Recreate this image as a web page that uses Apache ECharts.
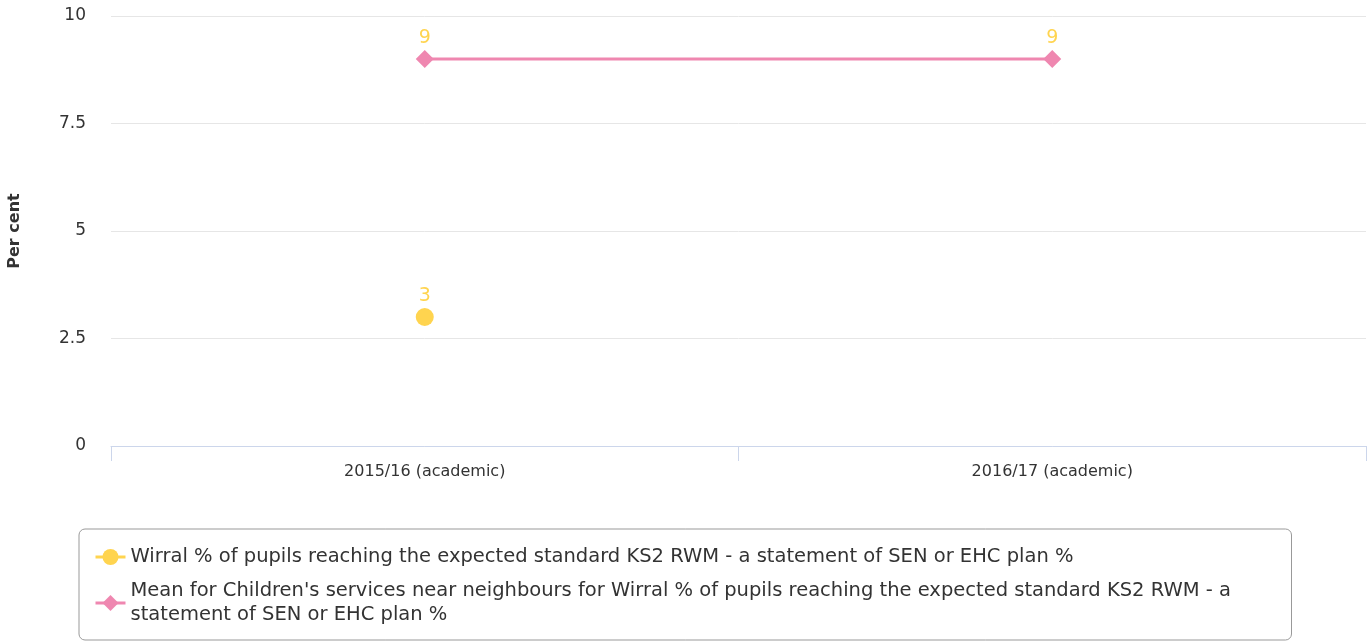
<!DOCTYPE html>
<html>
<head>
<meta charset="utf-8">
<script src="https://cdn.jsdelivr.net/npm/echarts@6/dist/echarts.min.js"></script>
<style>
  html, body { margin: 0; padding: 0; background: #fff; }
  #chart { width: 1372px; height: 641px; }
</style>
</head>
<body>
<div id="chart"></div>
<script>
var categories = ['2015/16 (academic)', '2016/17 (academic)'];
var wirralName = 'Wirral % of pupils reaching the expected standard KS2 RWM - a statement of SEN or EHC plan %';
var meanName = "Mean for Children's services near neighbours for Wirral % of pupils reaching the expected standard KS2 RWM - a statement of SEN or EHC plan %";
var wirralValues = [3, null];
var meanValues = [9, 9];
var yTicks = [0, 2.5, 5, 7.5, 10];

var fontFamily = 'DejaVu Sans';
var labelStyle = {
    show: true,
    position: 'top',
    distance: 2,
    color: '#ffd44f',
    fontSize: 19,
    fontFamily: fontFamily
};

var chart = echarts.init(document.getElementById('chart'));
var option = {
    animation: false,
    textStyle: { fontFamily: fontFamily },
    grid: {
        left: 111,
        right: 6,
        top: 16,
        bottom: 195,
        containLabel: false,
        outerBoundsMode: 'none'
    },
    xAxis: {
        type: 'category',
        data: categories,
        boundaryGap: true,
        axisLine: { lineStyle: { color: '#ccd6eb' } },
        axisTick: { show: true, length: 15, lineStyle: { color: '#ccd6eb' } },
        axisLabel: { color: '#333', fontSize: 16, margin: 18, fontFamily: fontFamily }
    },
    yAxis: {
        type: 'value',
        min: yTicks[0],
        max: yTicks[yTicks.length - 1],
        interval: 2.5,
        name: 'Per cent',
        nameLocation: 'middle',
        nameRotate: 90,
        nameGap: 88,
        nameTextStyle: { color: '#333', fontSize: 16, fontWeight: 'bold', fontFamily: fontFamily },
        axisLine: { show: false },
        axisTick: { show: false },
        axisLabel: { color: '#333', fontSize: 17, margin: 25, fontFamily: fontFamily },
        splitLine: { lineStyle: { color: '#e6e6e6' } }
    },
    legend: {
        orient: 'vertical',
        left: 79,
        top: 529,
        width: 1250,
        height: 200,
        padding: [16, 6, 13, 15],
        borderColor: '#999',
        borderWidth: 1,
        borderRadius: 6,
        itemGap: 10,
        itemWidth: 30,
        itemHeight: 20,
        lineStyle: { width: 3 },
        textStyle: {
            color: '#333',
            fontSize: 19.5,
            fontFamily: fontFamily,
            width: 1155,
            overflow: 'break',
            lineHeight: 24
        },
        data: [wirralName, meanName]
    },
    series: [
        {
            name: wirralName,
            type: 'line',
            data: wirralValues,
            color: '#ffd44f',
            symbol: 'circle',
            symbolSize: 18,
            lineStyle: { width: 3 },
            label: labelStyle
        },
        {
            name: meanName,
            type: 'line',
            data: meanValues,
            color: '#ef87b0',
            symbol: 'diamond',
            symbolSize: 18,
            lineStyle: { width: 3 },
            label: labelStyle
        }
    ]
};
chart.setOption(option);
</script>
</body>
</html>
